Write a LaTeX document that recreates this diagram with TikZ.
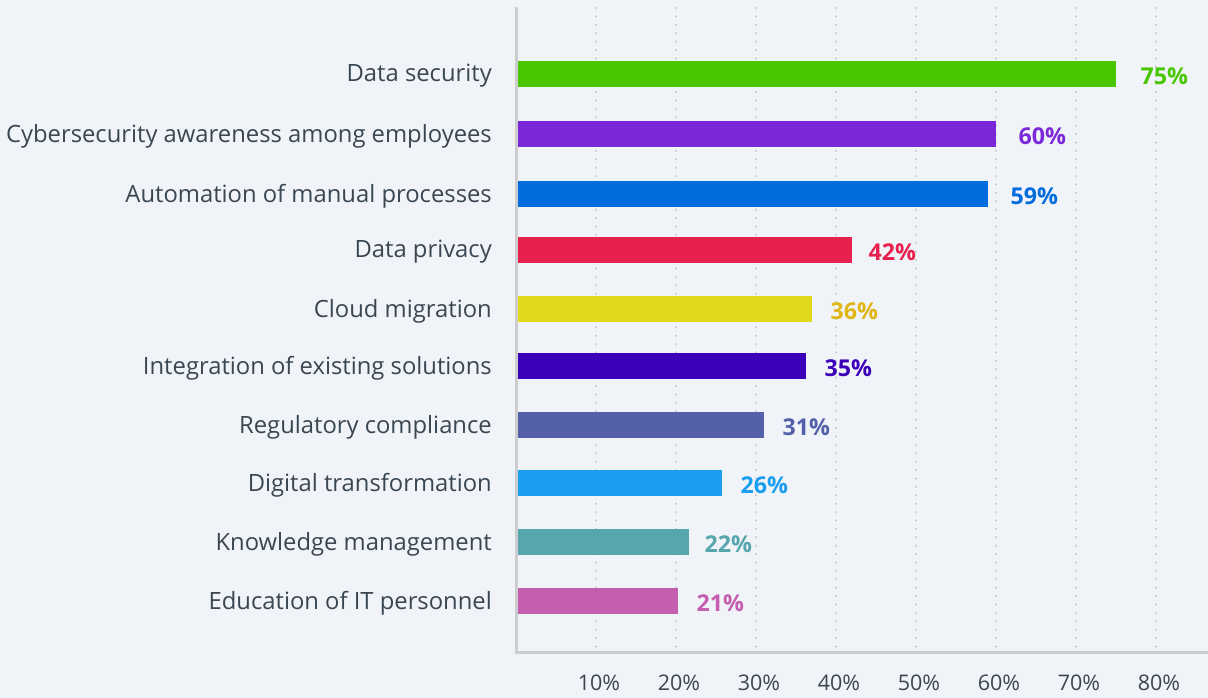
\documentclass[tikz,border=0pt]{standalone}
\usepackage{fontspec}
\setmainfont{Open Sans}
\usetikzlibrary{positioning}

\definecolor{bgcol}{HTML}{F0F4F8}
\definecolor{txtcol}{HTML}{3A4652}
\definecolor{gridcol}{HTML}{C6C8CA}
\definecolor{axiscol}{HTML}{CBCDCF}
\definecolor{cgreen}{HTML}{48C600}
\definecolor{cpurple}{HTML}{7B28D9}
\definecolor{cblue}{HTML}{006CDD}
\definecolor{cred}{HTML}{E8204E}
\definecolor{cyellow}{HTML}{E1D91B}
\definecolor{cgold}{HTML}{E0B514}
\definecolor{cindigo}{HTML}{3D00BA}
\definecolor{cslate}{HTML}{5560AA}
\definecolor{csky}{HTML}{1A9EEF}
\definecolor{cteal}{HTML}{56A6AC}
\definecolor{cpink}{HTML}{C35FAE}

\tikzset{
  bar/.style={anchor=west, inner sep=0pt, minimum height=26pt},
  cat/.style={left=24pt of #1, inner sep=0pt, yshift=-2pt, text=txtcol, font=\fontsize{23.8}{26}\selectfont},
  val/.style={right=18pt of #1, inner sep=0pt, yshift=-2pt, font=\fontsize{23.2}{26}\selectfont\bfseries},
  tick/.style={inner sep=0pt, text=txtcol, font=\fontsize{21.5}{24}\selectfont},
  grid/.style={gridcol, line width=2.4pt, dash pattern=on 0.1pt off 8.3pt, line cap=round},
  axis/.style={axiscol, line width=3pt}
}

\begin{document}
\begin{tikzpicture}[x=1pt, y=-1pt]
  \fill[bgcol] (0,0) rectangle (1208,698);
  \useasboundingbox (0,0) rectangle (1208,698);

  % dotted grid
  \coordinate (g1) at (596,8); \coordinate (h1) at (596,650);
  \coordinate (g2) at (676,8); \coordinate (h2) at (676,650);
  \coordinate (g3) at (756,8); \coordinate (h3) at (756,650);
  \coordinate (g4) at (836,8); \coordinate (h4) at (836,650);
  \coordinate (g5) at (916,8); \coordinate (h5) at (916,650);
  \coordinate (g6) at (996,8); \coordinate (h6) at (996,650);
  \coordinate (g7) at (1076,8); \coordinate (h7) at (1076,650);
  \coordinate (g8) at (1156,8); \coordinate (h8) at (1156,650);
  \draw[grid] (g1) -- (h1); \draw[grid] (g2) -- (h2); \draw[grid] (g3) -- (h3); \draw[grid] (g4) -- (h4);
  \draw[grid] (g5) -- (h5); \draw[grid] (g6) -- (h6); \draw[grid] (g7) -- (h7); \draw[grid] (g8) -- (h8);

  % bars
  \node[bar, fill=cgreen, minimum width=600pt] (sec) at (516,74) {};
  \node[bar, fill=cpurple, minimum width=480pt] (aware) at (516,134) {};
  \node[bar, fill=cblue, minimum width=472pt] (auto) at (516,194) {};
  \node[bar, fill=cred, minimum width=336pt] (priv) at (516,250) {};
  \node[bar, fill=cyellow, minimum width=296pt] (cloud) at (516,309) {};
  \node[bar, fill=cindigo, minimum width=290pt] (integ) at (516,366) {};
  \node[bar, fill=cslate, minimum width=248pt] (reg) at (516,425) {};
  \node[bar, fill=csky, minimum width=206pt] (dig) at (516,483) {};
  \node[bar, fill=cteal, minimum width=173pt] (know) at (516,542) {};
  \node[bar, fill=cpink, minimum width=162pt] (edu) at (516,601) {};

  % category labels
  \node[cat=sec] (lsec) {Data security};
  \node[cat=aware] (laware) {Cybersecurity awareness among employees};
  \node[cat=auto] (lauto) {Automation of manual processes};
  \node[cat=priv] (lpriv) {Data privacy};
  \node[cat=cloud] (lcloud) {Cloud migration};
  \node[cat=integ] (linteg) {Integration of existing solutions};
  \node[cat=reg] (lreg) {Regulatory compliance};
  \node[cat=dig] (ldig) {Digital transformation};
  \node[cat=know] (lknow) {Knowledge management};
  \node[cat=edu] (ledu) {Education of IT personnel};

  % values
  \node[val=sec, text=cgreen, xshift=6pt] (vsec) {75\%};
  \node[val=aware, text=cpurple, xshift=4pt] (vaware) {60\%};
  \node[val=auto, text=cblue, xshift=4pt] (vauto) {59\%};
  \node[val=priv, text=cred, xshift=-2pt] (vpriv) {42\%};
  \node[val=cloud, text=cgold] (vcloud) {36\%};
  \node[val=integ, text=cindigo] (vinteg) {35\%};
  \node[val=reg, text=cslate] (vreg) {31\%};
  \node[val=dig, text=csky] (vdig) {26\%};
  \node[val=know, text=cteal, xshift=-3pt] (vknow) {22\%};
  \node[val=edu, text=cpink] (vedu) {21\%};

  % axes
  \coordinate (top) at (516,7);
  \coordinate (origin) at (516,652);
  \coordinate (right) at (1208,652);
  \draw[axis] (top) -- (origin) -- (right);

  % tick labels
  \node[tick] (t1) at (599,683) {10\%};
  \node[tick] (t2) at (679,683) {20\%};
  \node[tick] (t3) at (759,683) {30\%};
  \node[tick] (t4) at (839,683) {40\%};
  \node[tick] (t5) at (919,683) {50\%};
  \node[tick] (t6) at (999,683) {60\%};
  \node[tick] (t7) at (1079,683) {70\%};
  \node[tick] (t8) at (1159,683) {80\%};
\end{tikzpicture}
\end{document}
